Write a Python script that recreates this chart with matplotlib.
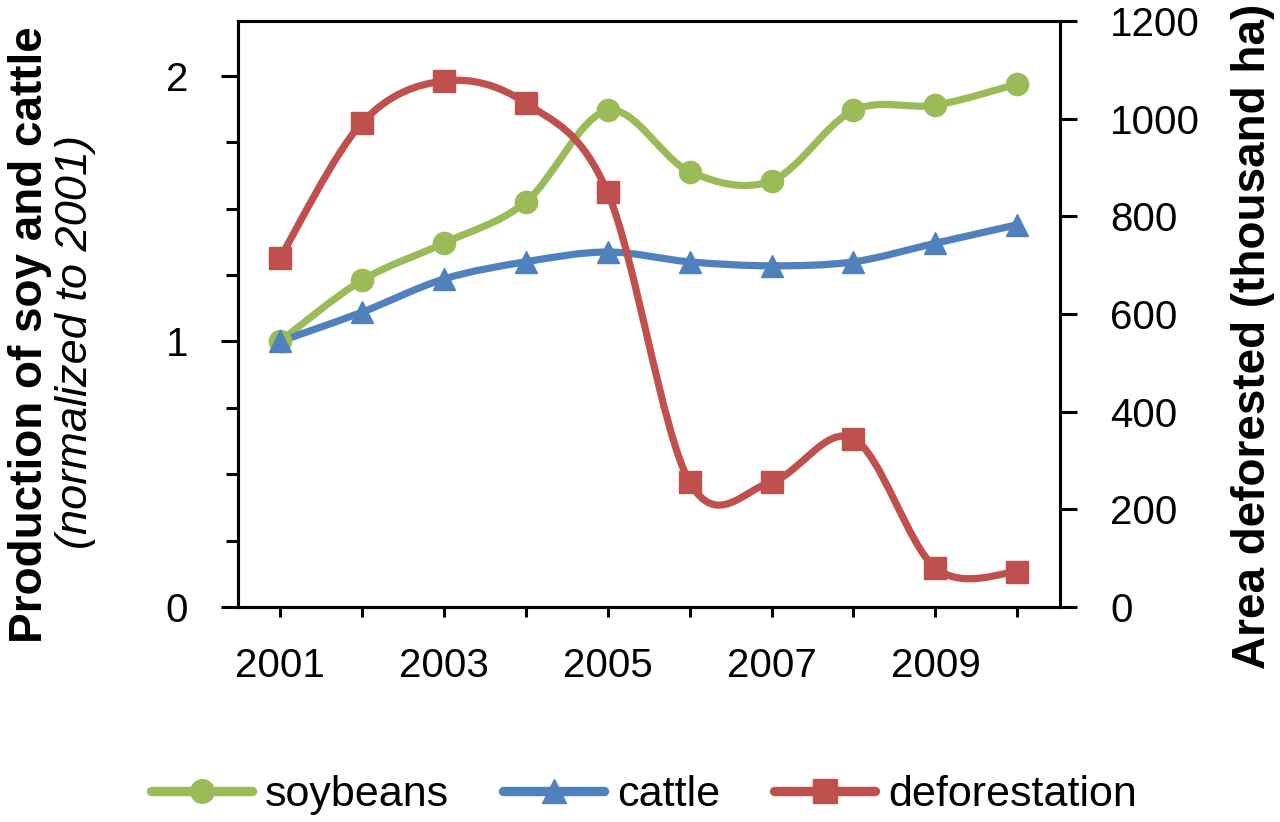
import numpy as np
import matplotlib
matplotlib.use("Agg")
import matplotlib.pyplot as plt
from matplotlib.path import Path
from matplotlib.patches import PathPatch
from matplotlib.lines import Line2D
from matplotlib.ticker import MultipleLocator, FixedLocator, FuncFormatter

plt.rcParams['font.family'] = ['Liberation Sans', 'DejaVu Sans']

years = [2001, 2002, 2003, 2004, 2005, 2006, 2007, 2008, 2009, 2010]
soybeans = [1.00, 1.23, 1.37, 1.525, 1.87, 1.64, 1.605, 1.87, 1.89, 1.97]
cattle = [1.00, 1.11, 1.235, 1.30, 1.337, 1.30, 1.285, 1.30, 1.37, 1.44]
deforestation = [714, 991, 1077, 1032, 849, 256, 256, 345, 80, 72]
year_labels = ['2001', '2003', '2005', '2007', '2009']

GREEN = '#9BBB59'
BLUE = '#4F81BD'
RED = '#C0504D'
FS = 29
LFS = 33
LEGFS = 31


def smooth_patch(ax, x, y, color, lw, z):
    pts = np.column_stack([x, y]).astype(float)
    n = len(pts)
    verts = [tuple(pts[0])]
    codes = [Path.MOVETO]
    for i in range(n - 1):
        p0 = pts[max(i - 1, 0)]
        p1 = pts[i]
        p2 = pts[i + 1]
        p3 = pts[min(i + 2, n - 1)]
        c1 = p1 + (p2 - p0) / 6.0
        c2 = p2 - (p3 - p1) / 6.0
        verts += [tuple(c1), tuple(c2), tuple(p2)]
        codes += [Path.CURVE4] * 3
    patch = PathPatch(Path(verts, codes), facecolor='none', edgecolor=color,
                      lw=lw, capstyle='round', joinstyle='round',
                      transform=ax.transData, zorder=z)
    ax.add_patch(patch)


fig = plt.figure(figsize=(12.8, 8.22), dpi=100)
ax = fig.add_axes([238 / 1280, 1 - 607 / 822, (1060 - 238) / 1280, (607 - 21) / 822])
ax2 = ax.twinx()

LW = 5.2
smooth_patch(ax, years, soybeans, GREEN, LW, 3)
ax.plot(years, soybeans, 'o', color=GREEN, ms=16, zorder=4)
smooth_patch(ax, years, cattle, BLUE, LW, 3)
ax.plot(years, cattle, '^', color=BLUE, ms=16, zorder=4)
smooth_patch(ax2, years, deforestation, RED, LW, 3)
ax2.plot(years, deforestation, 's', color=RED, ms=16, zorder=4)

ax.set_xlim(2000.49, 2010.52)
ax.set_ylim(0, 2.207)
ax2.set_ylim(0, 1200)

ax.xaxis.set_major_locator(FixedLocator(years))
ax.set_xticklabels([str(y) if str(y) in year_labels else '' for y in years])
ax.yaxis.set_major_locator(FixedLocator([0, 1, 2]))
ax.yaxis.set_minor_locator(MultipleLocator(0.25))
ax.yaxis.set_major_formatter(FuncFormatter(lambda v, p: '%d' % v))
ax2.yaxis.set_major_locator(MultipleLocator(200))

for a in (ax, ax2):
    for s in a.spines.values():
        s.set_linewidth(2.2)
        s.set_color('black')

ax.tick_params(axis='x', direction='out', length=7, width=2.2, labelsize=FS, pad=22)
ax.tick_params(axis='y', which='major', direction='out', length=12, width=2.2, labelsize=FS, pad=24)
ax.tick_params(axis='y', which='minor', direction='out', length=9, width=2.2)
ax2.tick_params(axis='y', direction='out', length=12, width=2.2, labelsize=FS, pad=24)

fig.text(30 / 1280, 1 - 335 / 822, 'Production of soy and cattle', rotation=90,
         ha='center', va='center', fontsize=LFS, fontweight='bold')
fig.text(76 / 1280, 1 - 342 / 822, '(normalized to 2001)', rotation=90,
         ha='center', va='center', fontsize=LFS - 0.5, fontstyle='italic')
fig.text(1253 / 1280, 1 - 336 / 822, 'Area deforested (thousand ha)', rotation=90,
         ha='center', va='center', fontsize=LFS, fontweight='bold')

handles = [
    Line2D([], [], color=GREEN, lw=LW * 1.3, marker='o', ms=17, solid_capstyle='round'),
    Line2D([], [], color=BLUE, lw=LW * 1.3, marker='^', ms=17, solid_capstyle='round'),
    Line2D([], [], color=RED, lw=LW * 1.3, marker='s', ms=17, solid_capstyle='round'),
]
fig.legend(handles, ['soybeans', 'cattle', 'deforestation'], loc='center',
           bbox_to_anchor=(644 / 1280, 1 - 795 / 822), ncol=3, frameon=False,
           fontsize=LEGFS, handlelength=2.35, handletextpad=0.3, columnspacing=1.25,
           borderpad=0, borderaxespad=0)

fig.savefig('out.png', dpi=100)
